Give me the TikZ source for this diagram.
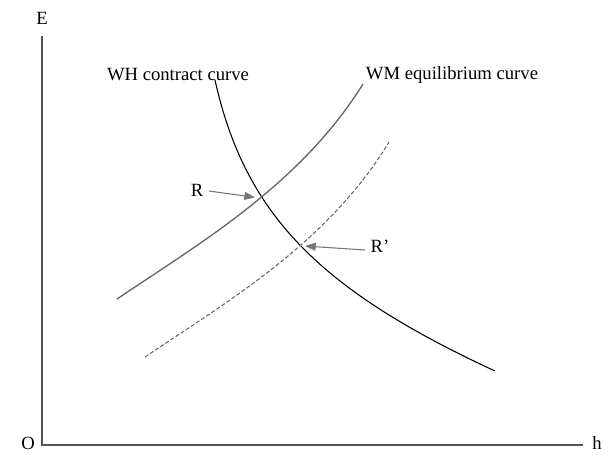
\documentclass[tikz,border=0pt]{standalone}
\usepackage{fontspec}
\setmainfont{Liberation Serif}
\usepackage{xcolor}
\usepackage{tikz}
\usetikzlibrary{arrows.meta, positioning}

\definecolor{axisgray}{HTML}{555555}
\definecolor{curvegray}{HTML}{666666}
\definecolor{arrowgray}{HTML}{777777}

\begin{document}
\begin{tikzpicture}[
        x=0.75pt, y=-0.75pt,
        lbl/.style={inner sep=1pt, font=\fontsize{14}{16}\selectfont},
        axisline/.style={draw=axisgray, line width=0.8pt},
        whcurve/.style={draw=black, line width=0.8pt},
        wmcurve/.style={draw=curvegray, line width=1pt},
        shifted/.style={draw=curvegray, line width=0.8pt, dash pattern=on 3pt off 1.6pt},
        pointer/.style={draw=arrowgray, line width=0.8pt, -{Triangle[length=8pt, width=6pt]}}
    ]
        \useasboundingbox (0,0) rectangle (611,454);

        % ================= AXES =================
        \coordinate (orig) at (42,445);
        \coordinate (etop) at (42,36);
        \coordinate (hend) at (583,445);
        \draw[axisline] (etop) -- (orig) -- (hend);

        \node[lbl] (Elbl) at (42,18) {E};
        \node[lbl] (Olbl) at (28,443) {O};
        \node[lbl] (hlbl) at (597,443) {h};

        % ================= CURVES =================
        \node[lbl] (whlbl) at (178,75) {WH contract curve};
        \node[lbl] (wmlbl) at (452,75) {WM equilibrium curve};

        \coordinate (R) at (259,198);
        \coordinate (Rp) at (301,246);

        \draw[whcurve] (215,80) .. controls (245,215) and (320,290) .. (495,371);
        \draw[wmcurve] (117,299) .. controls (200,243) and (300,185) .. (363,84);
        \draw[shifted] (145,357) .. controls (228,301) and (328,243) .. (389,142);

        % ================= POINTS =================
        \node[lbl] (Rlbl) at (197,190) {R};
        \node[lbl] (Rplbl) at (380,246) {R’};

        \draw[pointer] (Rlbl.east) ++(4,1) -- ([xshift=-3pt,yshift=0.5pt]R);
        \draw[pointer] (Rplbl.west) ++(-4,4) -- ([xshift=3pt]Rp);
    \end{tikzpicture}
\end{document}
